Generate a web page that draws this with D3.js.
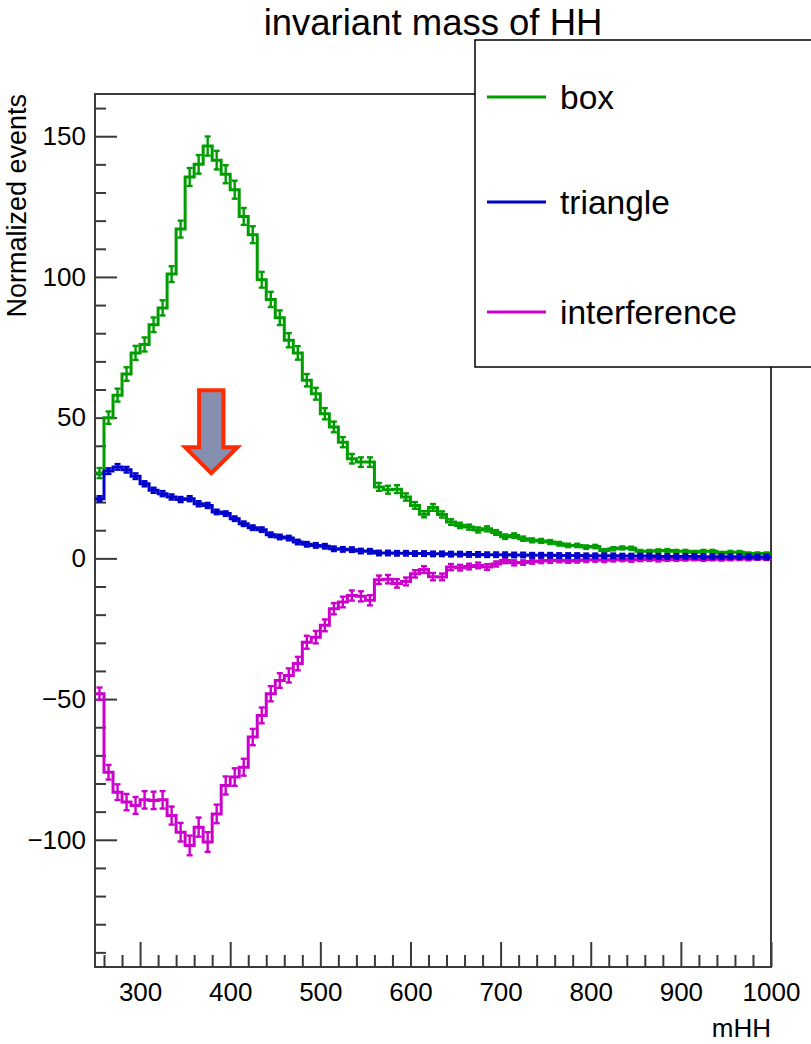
<!DOCTYPE html>
<html>
<head>
<meta charset="utf-8">
<script src="https://cdn.jsdelivr.net/npm/d3@7"></script>
<style>
  body { margin: 0; background: #fff; }
  svg { display: block; font-family: 'Liberation Sans', Arial, Helvetica, sans-serif; }
</style>
</head>
<body>
<div id="wrapper"></div>
<script>
// bins: 10 GeV wide, 250 -> 1000
const binLow = 250
const binWidth = 10

// bin contents
const boxValues = [
  30.3, 50, 58, 65.5, 73, 76, 83, 89, 101, 117,
  135.5, 140, 146.5, 141.5, 136.5, 131, 121.5, 115, 99, 92,
  85.5, 77.5, 73, 63.3, 58.5, 51.4, 46.7, 41.3, 35.4, 34.2,
  34.2, 25.4, 24.4, 24.6, 21.8, 18.8, 15.7, 18.1, 15.6, 12.9,
  11.7, 11.1, 10.1, 10.5, 9.2, 7.7, 8.1, 7.0, 6.4, 6.2,
  5.8, 5.2, 4.6, 4.6, 4.0, 4.2, 2.8, 3.4, 3.7, 3.6,
  2.5, 2.5, 2.7, 2.8, 2.5, 2.5, 2.2, 2.5, 2.5, 1.9,
  2.2, 2.2, 1.7, 1.7, 1.7,
]
const boxErrors = [
  1.8, 2.2, 2.3, 2.4, 2.5, 2.5, 2.6, 2.7, 2.8, 3.0,
  3.2, 3.3, 3.4, 3.3, 3.2, 3.2, 3.0, 3.0, 2.8, 2.7,
  2.6, 2.5, 2.4, 2.2, 2.1, 2.0, 1.9, 1.8, 1.7, 1.7,
  1.7, 1.4, 1.4, 1.4, 1.3, 1.2, 1.1, 1.2, 1.1, 1.0,
  0.95, 0.9, 0.9, 0.9, 0.85, 0.8, 0.8, 0.75, 0.7, 0.7,
  0.7, 0.65, 0.6, 0.6, 0.6, 0.6, 0.5, 0.55, 0.55, 0.55,
  0.5, 0.5, 0.5, 0.5, 0.5, 0.5, 0.45, 0.5, 0.5, 0.4,
  0.45, 0.45, 0.4, 0.4, 0.4,
]

const triangleValues = [
  21.2, 31, 32.5, 31.5, 29.2, 26.5, 24.2, 23, 21.8, 20.9,
  21.2, 19.4, 18.8, 16.5, 15.9, 14.1, 12.3, 10.9, 10.2, 8.4,
  7.6, 7.2, 5.8, 5.0, 4.6, 4.3, 3.4, 3.2, 3.1, 2.6,
  2.5, 1.9, 1.9, 1.8, 1.8, 1.7, 1.7, 1.6, 1.6, 1.5,
  1.5, 1.4, 1.4, 1.3, 1.3, 1.3, 1.2, 1.2, 1.1, 1.1,
  1.1, 1.0, 1.0, 1.0, 0.9, 0.9, 0.9, 0.9, 0.8, 0.8,
  0.8, 0.8, 0.7, 0.7, 0.7, 0.7, 0.7, 0.6, 0.6, 0.6,
  0.6, 0.6, 0.6, 0.5, 0.5,
]
const triangleErrors = [
  0.9, 1.0, 1.0, 1.0, 1.0, 0.9, 0.9, 0.9, 0.9, 0.9,
  0.9, 0.9, 0.9, 0.8, 0.8, 0.8, 0.8, 0.8, 0.8, 0.8,
  0.8, 0.8, 0.8, 0.8, 0.8, 0.8, 0.8, 0.8, 0.8, 0.8,
  0.8, 0.8, 0.8, 0.8, 0.8, 0.8, 0.8, 0.8, 0.8, 0.8,
  0.8, 0.8, 0.8, 0.8, 0.8, 0.8, 0.8, 0.8, 0.8, 0.8,
  0.8, 0.8, 0.8, 0.8, 0.8, 0.8, 0.8, 0.8, 0.8, 0.8,
  0.8, 0.8, 0.8, 0.8, 0.8, 0.8, 0.8, 0.8, 0.8, 0.8,
  0.8, 0.8, 0.8, 0.8, 0.8,
]

const interferenceValues = [
  -48.1, -76, -83.1, -86.6, -87.8, -85.8, -86, -85.8, -91.4, -97.3,
  -102, -95.5, -100.8, -90.8, -80.7, -77.7, -74.2, -63.5, -55.8, -48.1,
  -43.4, -41.6, -37.4, -29.8, -28, -23.8, -17.9, -15.5, -13.2, -13.5,
  -14.9, -7.6, -7.4, -8.9, -8.2, -5.5, -4.0, -6.5, -6.6, -3.1,
  -3.3, -2.9, -2.5, -3.1, -2.0, -0.8, -1.6, -1.5, -1.1, -0.9,
  -0.8, -0.7, -0.9, -0.8, -0.6, -0.5, -0.7, -0.5, -0.4, -0.6,
  -0.4, -0.3, -0.5, -0.3, -0.4, -0.3, -0.2, -0.4, -0.2, -0.3,
  -0.2, -0.1, -0.2, 0.0, -0.1,
]
const interferenceErrors = [
  2.2, 2.6, 2.8, 2.9, 3.0, 3.1, 3.1, 3.1, 3.2, 3.3,
  3.5, 3.4, 3.5, 3.3, 3.2, 3.1, 3.0, 2.9, 2.8, 2.7,
  2.6, 2.5, 2.4, 2.3, 2.2, 2.1, 2.0, 1.9, 1.8, 1.8,
  1.8, 1.5, 1.5, 1.5, 1.4, 1.3, 1.2, 1.3, 1.2, 1.1,
  1.0, 1.0, 1.0, 1.0, 0.9, 0.9, 0.9, 0.8, 0.8, 0.8,
  0.8, 0.7, 0.7, 0.7, 0.7, 0.7, 0.6, 0.6, 0.6, 0.6,
  0.6, 0.6, 0.6, 0.6, 0.5, 0.5, 0.5, 0.5, 0.5, 0.5,
  0.5, 0.5, 0.5, 0.5, 0.5,
]

const seriesNames = ['box', 'triangle', 'interference']
const seriesColors = ['#009d00', '#0000cc', '#cc00cc']

const yMajorTicks = [-100, -50, 0, 50, 100, 150]
const xMajorTicks = [300, 400, 500, 600, 700, 800, 900, 1000]

// arrow annotation, data coords
const arrowAt = { x: 379, top: 59.7, headBase: 39.5, tip: 30.3, shaftHalf: 13.5, headHalf: 29 }

const titleText = 'invariant mass of HH'
const xTitle = 'mHH'
const yTitle = 'Normalized events'

const dimensions = {
  width: 811,
  height: 1044,
  margin: { top: 94, right: 40, bottom: 77, left: 95 },
}
dimensions.boundedWidth = dimensions.width - dimensions.margin.left - dimensions.margin.right
dimensions.boundedHeight = dimensions.height - dimensions.margin.top - dimensions.margin.bottom

const wrapper = d3.select('#wrapper')
  .append('svg')
  .attr('width', dimensions.width)
  .attr('height', dimensions.height)

const xScale = d3.scaleLinear()
  .domain([250, 1000])
  .range([dimensions.margin.left, dimensions.margin.left + dimensions.boundedWidth])
const yScale = d3.scaleLinear()
  .domain([-145.2, 165])
  .range([dimensions.margin.top + dimensions.boundedHeight, dimensions.margin.top])

const frameColor = '#3a3a3a'

// minor ticks
const yMinor = d3.range(-140, 161, 10).filter((v) => !yMajorTicks.includes(v))
const xMinor = d3.range(260, 1000, 20).filter((v) => !xMajorTicks.includes(v))

const yAxisMinor = wrapper.append('g')
  .attr('transform', `translate(${dimensions.margin.left},0)`)
  .call(d3.axisLeft(yScale).tickValues(yMinor).tickSizeInner(-11).tickSizeOuter(0).tickFormat(''))
const yAxis = wrapper.append('g')
  .attr('transform', `translate(${dimensions.margin.left},0)`)
  .call(d3.axisLeft(yScale).tickValues(yMajorTicks).tickSizeInner(-22).tickSizeOuter(0).tickPadding(9))
const xAxisMinor = wrapper.append('g')
  .attr('transform', `translate(0,${yScale.range()[0]})`)
  .call(d3.axisBottom(xScale).tickValues(xMinor).tickSizeInner(-12).tickSizeOuter(0).tickFormat(''))
const xAxis = wrapper.append('g')
  .attr('transform', `translate(0,${yScale.range()[0]})`)
  .call(d3.axisBottom(xScale).tickValues(xMajorTicks).tickSizeInner(-25).tickSizeOuter(0)
    .tickPadding(16).tickFormat(d3.format('d')))

;[yAxisMinor, yAxis, xAxisMinor, xAxis].forEach((ax) => {
  ax.select('.domain').remove()
  ax.selectAll('line').attr('stroke', frameColor).attr('stroke-width', 2)
  ax.selectAll('text').attr('fill', '#000').style('font-size', '26px').style('font-family', null)
})

// frame
wrapper.append('rect')
  .attr('x', xScale.range()[0])
  .attr('y', yScale.range()[1])
  .attr('width', xScale.range()[1] - xScale.range()[0])
  .attr('height', yScale.range()[0] - yScale.range()[1])
  .attr('fill', 'none')
  .attr('stroke', frameColor)
  .attr('stroke-width', 2)

// histograms
const histograms = [
  { name: seriesNames[0], color: seriesColors[0], values: boxValues, errors: boxErrors },
  { name: seriesNames[2], color: seriesColors[2], values: interferenceValues, errors: interferenceErrors },
  { name: seriesNames[1], color: seriesColors[1], values: triangleValues, errors: triangleErrors },
]

const stepLine = d3.line()
  .x((d) => xScale(d.x))
  .y((d) => yScale(d.y))
  .curve(d3.curveStepAfter)

const plot = wrapper.append('g').attr('class', 'histos')
histograms.forEach((h) => {
  const bins = h.values.map((v, i) => ({
    x: binLow + i * binWidth,
    center: binLow + (i + 0.5) * binWidth,
    y: v,
    err: h.errors[i],
  }))
  const pts = bins.concat([{ x: binLow + bins.length * binWidth, y: bins[bins.length - 1].y }])
  const g = plot.append('g')
  g.append('path')
    .attr('d', stepLine(pts))
    .attr('fill', 'none')
    .attr('stroke', h.color)
    .attr('stroke-width', 3)
  const eb = g.selectAll('g.err').data(bins).join('g').attr('class', 'err')
  eb.append('line')
    .attr('x1', (d) => xScale(d.center)).attr('x2', (d) => xScale(d.center))
    .attr('y1', (d) => yScale(d.y - d.err)).attr('y2', (d) => yScale(d.y + d.err))
  eb.append('line')
    .attr('x1', (d) => xScale(d.center) - 3).attr('x2', (d) => xScale(d.center) + 3)
    .attr('y1', (d) => yScale(d.y + d.err)).attr('y2', (d) => yScale(d.y + d.err))
  eb.append('line')
    .attr('x1', (d) => xScale(d.center) - 3).attr('x2', (d) => xScale(d.center) + 3)
    .attr('y1', (d) => yScale(d.y - d.err)).attr('y2', (d) => yScale(d.y - d.err))
  eb.selectAll('line').attr('stroke', h.color).attr('stroke-width', 2.4)
})

// arrow
const ax0 = xScale(arrowAt.x)
const sh = xScale(arrowAt.x + arrowAt.shaftHalf) - ax0
const hh = xScale(arrowAt.x + arrowAt.headHalf) - ax0
const arrowPts = [
  [ax0 - sh, yScale(arrowAt.top)],
  [ax0 + sh, yScale(arrowAt.top)],
  [ax0 + sh, yScale(arrowAt.headBase)],
  [ax0 + hh, yScale(arrowAt.headBase)],
  [ax0, yScale(arrowAt.tip)],
  [ax0 - hh, yScale(arrowAt.headBase)],
  [ax0 - sh, yScale(arrowAt.headBase)],
]
wrapper.append('path')
  .attr('d', 'M' + arrowPts.join('L') + 'Z')
  .attr('fill', '#8590b0')
  .attr('stroke', '#ff2a00')
  .attr('stroke-width', 4)

// title
wrapper.append('text')
  .attr('x', 433)
  .attr('y', 35)
  .attr('text-anchor', 'middle')
  .style('font-size', '36.5px')
  .text(titleText)

// axis titles
wrapper.append('text')
  .attr('x', xScale.range()[1])
  .attr('y', 1037)
  .attr('text-anchor', 'end')
  .style('font-size', '26px')
  .text(xTitle)

wrapper.append('text')
  .attr('transform', `translate(26,${yScale.range()[1]}) rotate(-90)`)
  .attr('text-anchor', 'end')
  .style('font-size', '27px')
  .text(yTitle)

// legend
const legend = wrapper.append('g')
legend.append('rect')
  .attr('x', 475).attr('y', 40)
  .attr('width', 400).attr('height', 327)
  .attr('fill', '#fff')
  .attr('stroke', '#000')
  .attr('stroke-width', 1.5)
const legendRows = [97, 202, 312]
seriesNames.forEach((name, i) => {
  legend.append('line')
    .attr('x1', 487).attr('x2', 546)
    .attr('y1', legendRows[i]).attr('y2', legendRows[i])
    .attr('stroke', seriesColors[i])
    .attr('stroke-width', 3)
  legend.append('text')
    .attr('x', 560).attr('y', legendRows[i])
    .attr('dy', '0.35em')
    .style('font-size', '33.5px')
    .text(name)
})
</script>
</body>
</html>
